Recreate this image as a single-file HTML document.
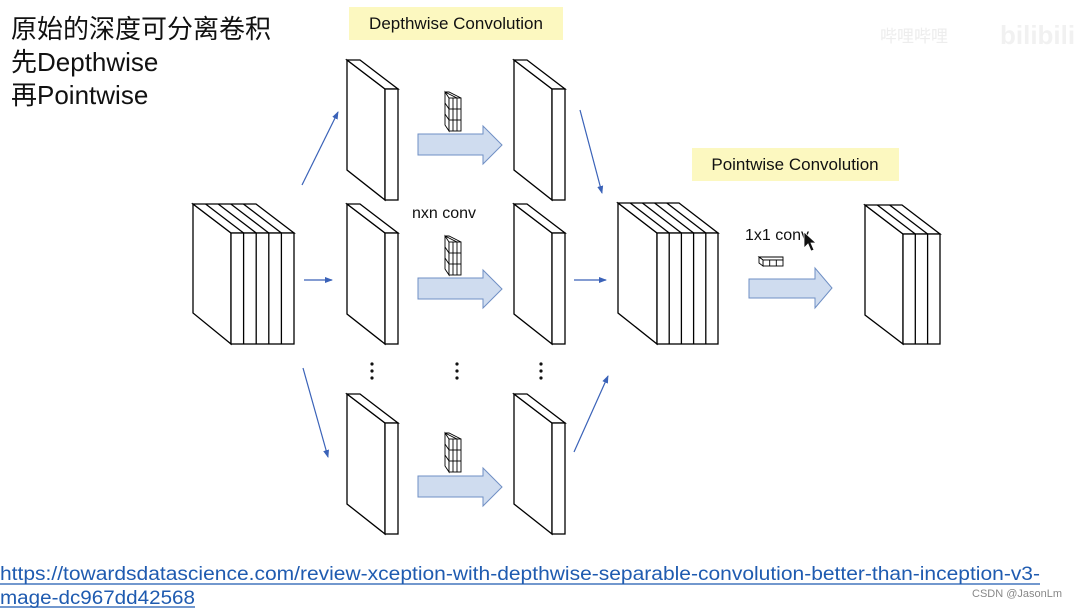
<!DOCTYPE html>
<html><head><meta charset="utf-8"><style>
html,body{margin:0;padding:0;background:#fff;}
body{width:1084px;height:609px;overflow:hidden;position:relative;font-family:"Liberation Sans","Noto Sans CJK SC",sans-serif;}
</style></head><body>
<svg width="1084" height="609" viewBox="0 0 1084 609" xmlns="http://www.w3.org/2000/svg" style="position:absolute;left:0;top:0">
<defs>
<g id="slab" fill="#fff" stroke="#000" stroke-width="1.3">
  <polygon points="0,0 38,29 38,140 0,110"/>
  <polygon points="0,0 13,0 51,29 38,29"/>
  <rect x="38" y="29" width="13" height="111"/>
</g>
<g id="kern" fill="#fff" stroke="#000" stroke-width="0.9">
  <polygon points="0,0 4,0 16,6 12,6"/>
  <polygon points="0,0 4,6 4,39 0,33"/>
  <rect x="4" y="6" width="12" height="33"/>
  <line x1="8" y1="6" x2="8" y2="39"/><line x1="12" y1="6" x2="12" y2="39"/>
  <line x1="4" y1="17" x2="16" y2="17"/><line x1="4" y1="28" x2="16" y2="28"/>
  <line x1="0" y1="11" x2="4" y2="17"/><line x1="0" y1="22" x2="4" y2="28"/>
</g>
<g id="bigarrow" fill="#cfdcef" stroke="#6f8fc4" stroke-width="1">
  <polygon points="0,8 65,8 65,0 84,19 65,38 65,29 0,29"/>
</g>
<marker id="ah" markerWidth="8" markerHeight="8" refX="7" refY="4" orient="auto" markerUnits="userSpaceOnUse">
  <path d="M0,1 L8,4 L0,7 z" fill="#3a62b8"/>
</marker>
</defs>

<rect x="349" y="7" width="214" height="33" fill="#fcf8c0"/>
<text x="456" y="29" font-size="17" text-anchor="middle" font-family="Liberation Sans,sans-serif" fill="#111">Depthwise Convolution</text>
<rect x="692" y="148" width="207" height="33" fill="#fcf8c0"/>
<text x="795" y="170" font-size="17" text-anchor="middle" font-family="Liberation Sans,sans-serif" fill="#111">Pointwise Convolution</text>

<g fill="#fff" stroke="#000" stroke-width="1.3">
  <polygon points="193,204 231,233 231,344 193,313"/>
  <polygon points="193,204 256,204 294,233 231,233"/>
  <line x1="205.6" y1="204" x2="243.6" y2="233"/><line x1="218.2" y1="204" x2="256.2" y2="233"/>
  <line x1="230.8" y1="204" x2="268.8" y2="233"/><line x1="243.4" y1="204" x2="281.4" y2="233"/>
  <rect x="231" y="233" width="63" height="111"/>
  <line x1="243.6" y1="233" x2="243.6" y2="344"/><line x1="256.2" y1="233" x2="256.2" y2="344"/>
  <line x1="268.8" y1="233" x2="268.8" y2="344"/><line x1="281.4" y1="233" x2="281.4" y2="344"/>
</g>

<use href="#slab" x="347" y="60"/><use href="#slab" x="347" y="204"/><use href="#slab" x="347" y="394"/>
<use href="#slab" x="514" y="60"/><use href="#slab" x="514" y="204"/><use href="#slab" x="514" y="394"/>

<use href="#kern" x="445" y="92"/><use href="#kern" x="445" y="236"/><use href="#kern" x="445" y="433"/>
<use href="#bigarrow" x="418" y="126"/><use href="#bigarrow" x="418" y="270"/><use href="#bigarrow" x="418" y="468"/>
<text x="412" y="218" font-size="16" font-family="Liberation Sans,sans-serif" fill="#111">nxn conv</text>

<g fill="#111">
  <circle cx="372" cy="364" r="1.6"/><circle cx="372" cy="371" r="1.6"/><circle cx="372" cy="378" r="1.6"/>
  <circle cx="457" cy="364" r="1.6"/><circle cx="457" cy="371" r="1.6"/><circle cx="457" cy="378" r="1.6"/>
  <circle cx="541" cy="364" r="1.6"/><circle cx="541" cy="371" r="1.6"/><circle cx="541" cy="378" r="1.6"/>
</g>

<g stroke="#3a62b8" stroke-width="1.2" marker-end="url(#ah)">
  <line x1="302" y1="185" x2="338" y2="112"/>
  <line x1="304" y1="280" x2="332" y2="280"/>
  <line x1="303" y1="368" x2="328" y2="457"/>
  <line x1="580" y1="110" x2="602" y2="193"/>
  <line x1="574" y1="280" x2="606" y2="280"/>
  <line x1="574" y1="452" x2="608" y2="376"/>
</g>

<g fill="#fff" stroke="#000" stroke-width="1.3">
  <polygon points="618,203 657,233 657,344 618,313"/>
  <polygon points="618,203 679,203 718,233 657,233"/>
  <line x1="630.2" y1="203" x2="669.2" y2="233"/><line x1="642.4" y1="203" x2="681.4" y2="233"/>
  <line x1="654.6" y1="203" x2="693.6" y2="233"/><line x1="666.8" y1="203" x2="705.8" y2="233"/>
  <rect x="657" y="233" width="61" height="111"/>
  <line x1="669.2" y1="233" x2="669.2" y2="344"/><line x1="681.4" y1="233" x2="681.4" y2="344"/>
  <line x1="693.6" y1="233" x2="693.6" y2="344"/><line x1="705.8" y1="233" x2="705.8" y2="344"/>
</g>

<text x="745" y="240" font-size="16" font-family="Liberation Sans,sans-serif" fill="#111">1x1 conv</text>
<path d="M804,232 L804,248 L808,244 L811,251 L814,250 L811,243 L816,243 Z" fill="#111" stroke="#fff" stroke-width="0.8"/>
<g fill="#fff" stroke="#000" stroke-width="0.9">
  <polygon points="759,257 763,257 783,257 783,260 763,260 759,257"/>
  <rect x="763" y="260" width="20" height="6"/>
  <polygon points="759,257 763,260 763,266 759,263"/>
  <line x1="769.7" y1="260" x2="769.7" y2="266"/><line x1="776.3" y1="260" x2="776.3" y2="266"/>
</g>
<g fill="#cfdcef" stroke="#6f8fc4" stroke-width="1">
  <polygon points="749,279 815,279 815,268 832,288 815,308 815,298 749,298"/>
</g>

<g fill="#fff" stroke="#000" stroke-width="1.3">
  <polygon points="865,205 903,234 903,344 865,315"/>
  <polygon points="865,205 902,205 940,234 903,234"/>
  <line x1="877.3" y1="205" x2="915.3" y2="234"/><line x1="889.6" y1="205" x2="927.6" y2="234"/>
  <rect x="903" y="234" width="37" height="110"/>
  <line x1="915.3" y1="234" x2="915.3" y2="344"/><line x1="927.6" y1="234" x2="927.6" y2="344"/>
</g>

<text x="11" y="38" font-size="26" font-family="Liberation Sans,Noto Sans CJK SC,sans-serif" fill="#111">原始的深度可分离卷积</text>
<text x="11" y="71" font-size="26" font-family="Liberation Sans,Noto Sans CJK SC,sans-serif" fill="#111">先Depthwise</text>
<text x="11" y="104" font-size="26" font-family="Liberation Sans,Noto Sans CJK SC,sans-serif" fill="#111">再Pointwise</text>

<text x="880" y="42" font-size="17" font-family="Liberation Sans,Noto Sans CJK SC,sans-serif" fill="#ededed">哔哩哔哩</text>
<text x="1000" y="44" font-size="26" font-weight="bold" font-family="Liberation Sans,sans-serif" fill="#f1f1f1">bilibili</text>

<text x="0" y="580" font-size="19" font-family="Liberation Sans,sans-serif" fill="#1f5bb0" textLength="1040" lengthAdjust="spacingAndGlyphs">https://towardsdatascience.com/review-xception-with-depthwise-separable-convolution-better-than-inception-v3-</text>
<line x1="0" y1="584" x2="1040" y2="584" stroke="#1f5bb0" stroke-width="1.2"/>
<text x="0" y="604" font-size="19" font-family="Liberation Sans,sans-serif" fill="#1f5bb0" textLength="195" lengthAdjust="spacingAndGlyphs">mage-dc967dd42568</text>
<line x1="0" y1="607" x2="195" y2="607" stroke="#1f5bb0" stroke-width="1.2"/>
<text x="972" y="597" font-size="11" font-family="Liberation Sans,sans-serif" fill="#888">CSDN @JasonLm</text>
</svg>
</body></html>
